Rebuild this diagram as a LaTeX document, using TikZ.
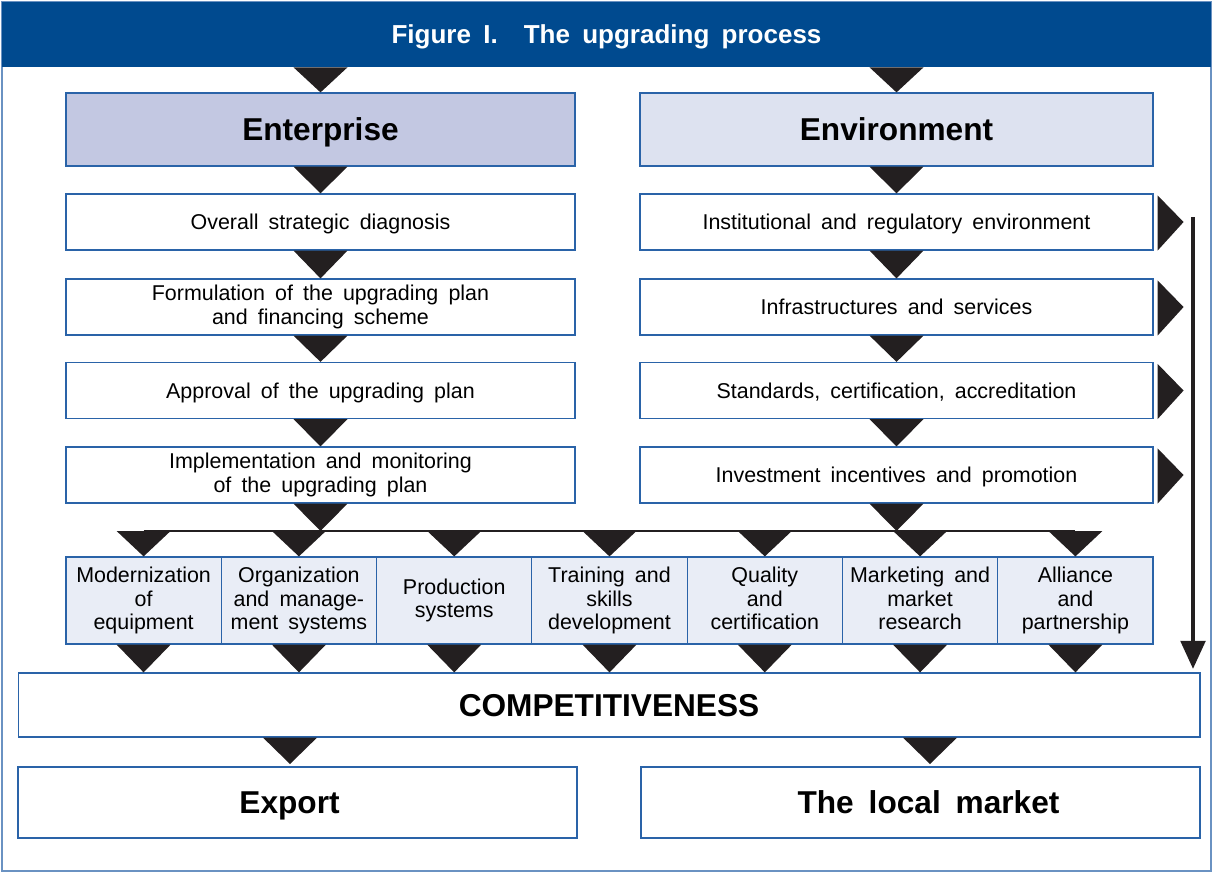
\documentclass[tikz,border=0pt]{standalone}
\usepackage{fontspec}
\setmainfont{Liberation Sans}[WordSpace=1.7]
\usetikzlibrary{positioning,calc,arrows.meta}

\definecolor{titleblue}{HTML}{004A8F}
\definecolor{lineblue}{HTML}{2A63A8}
\definecolor{entfill}{HTML}{C3C8E2}
\definecolor{envfill}{HTML}{DDE2F0}
\definecolor{smallfill}{HTML}{E9EDF6}
\definecolor{tridark}{HTML}{231F20}

\tikzset{
	even/.style={execute at begin node={\rule{0pt}{0.93em}}, execute at end node={\rule[-0.21em]{0pt}{0pt}}},
	box/.style={draw=lineblue, line width=0.7pt, fill=white, minimum width=10.18cm, minimum height=1.12cm,
		inner sep=0pt, align=center, font=\fontsize{12.2}{13.6}\selectfont, even},
	head/.style={box, minimum height=1.46cm, font=\fontsize{18}{20}\selectfont\bfseries},
	small/.style={box, fill=smallfill, minimum width=3.106cm, minimum height=1.74cm},
	market/.style={box, minimum width=11.18cm, minimum height=1.42cm},
	bigtext/.style={font=\fontsize{18}{20}\selectfont\bfseries, inner sep=0pt, even},
	tri/.style={fill=tridark},
}
\newcommand{\downtri}[2]{\fill[tri] ($(#1)+(-27,0)$) -- ($(#1)+(27,0)$) -- (#2) -- cycle;}
\newcommand{\righttri}[1]{\fill[tri] ($(#1.north east)+(4,2)$) -- ($(#1.east)+(30,0)$) -- ($(#1.south east)+(4,0)$) -- cycle;}

\begin{document}
\begin{tikzpicture}[x=0.02cm,y=-0.02cm]
	\useasboundingbox (0,0) rectangle (1213,873);
	\draw[lineblue!70, line width=0.6pt] (2,2) rectangle (1211,871);
	\node (title) at (606.5,34.5) [fill=titleblue, text=white, minimum width=24.18cm, minimum height=1.3cm,
		font=\fontsize{14.8}{17}\selectfont\bfseries, even]
		{Figure I.\hspace{1.0em}The upgrading process};

	% enterprise side
	\node (ent) at (320.5,129.5) [head, fill=entfill] {Enterprise};
	\node (diag) at (320.5,222) [box] {Overall strategic diagnosis};
	\node (form) at (320.5,307) [box] {Formulation of the upgrading plan\\and financing scheme};
	\node (appr) at (320.5,390.5) [box] {Approval of the upgrading plan};
	\node (impl) at (320.5,475) [box] {Implementation and monitoring\\of the upgrading plan};

	% environment side
	\node (env) at (896.5,129.5) [head, fill=envfill, minimum width=10.26cm] {Environment};
	\node (inst) at (896.5,222) [box, minimum width=10.26cm] {Institutional and regulatory environment};
	\node (infr) at (896.5,307) [box, minimum width=10.26cm] {Infrastructures and services};
	\node (stan) at (896.5,390.5) [box, minimum width=10.26cm] {Standards, certification, accreditation};
	\node (inve) at (896.5,475) [box, minimum width=10.26cm] {Investment incentives and promotion};

	% fields of upgrading
	\node (m1) at (143.6,600.5) [small] {Modernization\\of\\equipment};
	\node (m2) at (298.9,600.5) [small] {Organization\\and manage-\\ment systems};
	\node (m3) at (454.2,600.5) [small] {Production\\systems};
	\node (m4) at (609.5,600.5) [small] {Training and\\skills\\development};
	\node (m5) at (764.8,600.5) [small] {Quality\\and\\certification};
	\node (m6) at (920.1,600.5) [small] {Marketing and\\market\\research};
	\node (m7) at (1075.4,600.5) [small] {Alliance\\and\\partnership};

	\node (comp) at (609,705) [box, minimum width=23.64cm, minimum height=1.28cm,
		font=\fontsize{18}{20}\selectfont\bfseries] {COMPETITIVENESS};
	\node (exp) at (297.5,802.5) [market, label={[bigtext, xshift=-0.16cm]center:Export}] {};
	\node (loc) at (920.5,802.5) [market, label={[bigtext, xshift=0.16cm]center:The local market}] {};

	\coordinate (bar) at (0,531);
	\coordinate (arrtop) at (1193,217);
	\coordinate (exptip) at (290,764);
	\coordinate (loctip) at (930,764);

	% triangles
	\downtri{title.south -| ent.north}{ent.north}
	\downtri{title.south -| env.north}{env.north}
	\downtri{ent.south}{diag.north}
	\downtri{diag.south}{form.north}
	\downtri{form.south}{appr.north}
	\downtri{appr.south}{impl.north}
	\downtri{env.south}{inst.north}
	\downtri{inst.south}{infr.north}
	\downtri{infr.south}{stan.north}
	\downtri{stan.south}{inve.north}

	\draw[tridark, line width=1.3pt] (m1.north |- bar) -- (m7.north |- bar);
	\downtri{impl.south}{impl.south |- bar}
	\downtri{inve.south}{inve.south |- bar}
	\downtri{m1.north |- bar}{m1.north}
	\downtri{m2.north |- bar}{m2.north}
	\downtri{m3.north |- bar}{m3.north}
	\downtri{m4.north |- bar}{m4.north}
	\downtri{m5.north |- bar}{m5.north}
	\downtri{m6.north |- bar}{m6.north}
	\downtri{m7.north |- bar}{m7.north}

	\downtri{m1.south}{m1.south |- comp.north}
	\downtri{m2.south}{m2.south |- comp.north}
	\downtri{m3.south}{m3.south |- comp.north}
	\downtri{m4.south}{m4.south |- comp.north}
	\downtri{m5.south}{m5.south |- comp.north}
	\downtri{m6.south}{m6.south |- comp.north}
	\downtri{m7.south}{m7.south |- comp.north}

	\downtri{comp.south -| exptip}{exptip}
	\downtri{comp.south -| loctip}{loctip}

	\righttri{inst}
	\righttri{infr}
	\righttri{stan}
	\righttri{inve}
	\draw[tridark, line width=2.2pt, -{Triangle[width=14pt,length=16pt]}, shorten >=2pt] (arrtop) -- (arrtop |- comp.north);
\end{tikzpicture}
\end{document}
